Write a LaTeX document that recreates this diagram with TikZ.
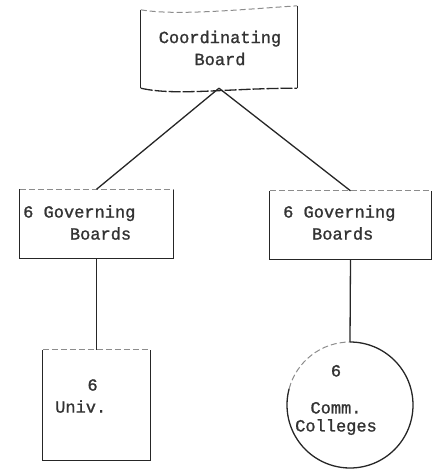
\documentclass[tikz,border=0pt]{standalone}
\usepackage{fontspec}
\setmonofont[FakeBold=1.2]{Liberation Mono}
\usetikzlibrary{calc}
\begin{document}
\begin{tikzpicture}[x=1pt,y=-1pt,
  ink/.style={draw=black!85, line width=1.3pt},
  faint/.style={draw=black!45, line width=1pt, dash pattern=on 6pt off 3pt},
  txt/.style={font=\ttfamily\fontsize{17}{22}\selectfont, text=black!80, inner sep=0pt},
  frame/.style={draw=none, inner sep=0pt}]
\useasboundingbox (0,0) rectangle (437,469);

% outlines (bounds only, edges drawn below)
\node[frame, minimum width=156pt, minimum height=80pt] (board) at (219,48) {};
\node[frame, minimum width=153pt, minimum height=69pt] (gov1) at (96.5,224) {};
\node[frame, minimum width=161pt, minimum height=68pt] (gov2) at (350.5,225) {};
\node[frame, minimum width=107pt, minimum height=110pt] (univ) at (96.5,405) {};
\node[frame, circle, minimum size=126pt] (comm) at (350,405) {};

% coordinating board: straight sides, wavy top and bottom
\draw[ink] (board.north west) ++(0,2) -- (board.south west);
\draw[ink] (board.north east) ++(0,-2) -- (board.south east);
\draw[faint] ($(board.north west)+(0,2)$) .. controls +(35,6) and +(-60,4) .. ($(board.north east)+(0,-2)$);
\draw[ink, dash pattern=on 12pt off 2pt] (board.south west) .. controls +(35,8) and +(-70,0) .. (board.south east);

% rectangular boxes: solid sides and bottom, faded top
\foreach \b in {gov1,gov2,univ}{
  \draw[ink] (\b.north west) -- (\b.south west) -- (\b.south east) -- (\b.north east);
  \draw[faint] (\b.north west) -- (\b.north east);
}

% circle: faded upper-left arc, solid remainder
\draw[faint] ($(comm.center)+(195:63)$) arc[start angle=195, end angle=270, radius=63];
\draw[ink] ($(comm.center)+(270:63)$) arc[start angle=270, end angle=555, radius=63];

% texts
\node[txt, align=center] (boardtxt) at (220,48) {Coordinating\\Board};
\node[txt, align=left, anchor=west] (gov1txt) at (23,222.5) {6 Governing\\\hspace*{2.75em}Boards};
\node[txt, align=left, anchor=west] (gov2txt) at (283,222.5) {6 Governing\\\hspace*{1.7em}Boards};
\node[txt, align=left, anchor=west] (univtxt) at (55,396) {\hspace*{1.9em}6\\Univ.};
\node[txt, align=center, font=\ttfamily\fontsize{17}{18}\selectfont] (commtxt) at (336,400) {6\\[19pt]Comm.\\Colleges};

% connectors
\draw[ink] (board.south) -- (gov1.north);
\draw[ink] (board.south) -- (gov2.north);
\draw[ink] (gov1.south) -- (univ.north);
\draw[ink] (gov2.south) -- (comm.north);
\end{tikzpicture}
\end{document}
